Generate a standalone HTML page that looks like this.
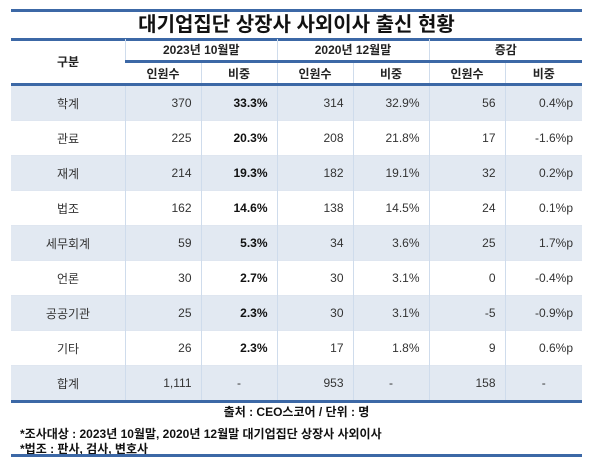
<!DOCTYPE html>
<html><head><meta charset="utf-8"><style>
body{margin:0;width:600px;height:467px;background:#fff;font-family:"Liberation Sans","Noto Sans CJK KR",sans-serif;color:#333;position:relative;overflow:hidden}
.hl{position:absolute;left:11px;width:571px;background:#3c68a6}
.t{position:absolute;left:11px;width:571px;top:12px;height:27px;text-align:center;font-size:20px;font-weight:bold;color:#111;line-height:27px}
table{position:absolute;left:11px;top:39px;width:571px;border-collapse:collapse;font-size:12px}
td{padding:0;border-left:1px solid #cfdcec;border-top:1px solid #dfe6f0}
td:first-child{border-left:none;text-align:center;width:114px}
tr.h td{text-align:center;font-weight:bold;color:#222}
tr.d td{height:34px;text-align:right;padding-right:9px}
tr.d td:first-child{text-align:center;padding-right:0}
tr.s td{background:#e2e9f2}
td.b{font-weight:bold;color:#111}
.src{position:absolute;top:403px;left:11px;width:571px;text-align:center;font-size:12px;font-weight:bold;color:#111}
.n{position:absolute;left:20px;font-size:12px;font-weight:bold;color:#111}
</style></head><body>
<div class="hl" style="top:9px;height:3px"></div>
<div class="t">대기업집단 상장사 사외이사 출신 현황</div>
<div class="hl" style="top:38px;height:3px"></div>
<table>
<tr class="h"><td rowspan="2" style="border-top:none">구분</td><td colspan="2" style="height:21px;border-top:none">2023년 10월말</td><td colspan="2" style="border-top:none">2020년 12월말</td><td colspan="2" style="border-top:none">증감</td></tr>
<tr class="h"><td style="height:20px;border-top:3px solid #3c68a6;width:75px">인원수</td><td style="border-top:3px solid #3c68a6;width:75px">비중</td><td style="border-top:3px solid #3c68a6;width:75px">인원수</td><td style="border-top:3px solid #3c68a6;width:75px">비중</td><td style="border-top:3px solid #3c68a6;width:75px">인원수</td><td style="border-top:3px solid #3c68a6">비중</td></tr>
<tr class="d s"><td style="border-top:3px solid #3c68a6">학계</td><td style="border-top:3px solid #3c68a6">370</td><td class="b" style="border-top:3px solid #3c68a6">33.3%</td><td style="border-top:3px solid #3c68a6">314</td><td style="border-top:3px solid #3c68a6">32.9%</td><td style="border-top:3px solid #3c68a6">56</td><td style="border-top:3px solid #3c68a6">0.4%p</td></tr>
<tr class="d"><td>관료</td><td>225</td><td class="b">20.3%</td><td>208</td><td>21.8%</td><td>17</td><td>-1.6%p</td></tr>
<tr class="d s"><td>재계</td><td>214</td><td class="b">19.3%</td><td>182</td><td>19.1%</td><td>32</td><td>0.2%p</td></tr>
<tr class="d"><td>법조</td><td>162</td><td class="b">14.6%</td><td>138</td><td>14.5%</td><td>24</td><td>0.1%p</td></tr>
<tr class="d s"><td>세무회계</td><td>59</td><td class="b">5.3%</td><td>34</td><td>3.6%</td><td>25</td><td>1.7%p</td></tr>
<tr class="d"><td>언론</td><td>30</td><td class="b">2.7%</td><td>30</td><td>3.1%</td><td>0</td><td>-0.4%p</td></tr>
<tr class="d s"><td>공공기관</td><td>25</td><td class="b">2.3%</td><td>30</td><td>3.1%</td><td>-5</td><td>-0.9%p</td></tr>
<tr class="d"><td>기타</td><td>26</td><td class="b">2.3%</td><td>17</td><td>1.8%</td><td>9</td><td>0.6%p</td></tr>
<tr class="d s"><td>합계</td><td>1,111</td><td style="text-align:center;padding:0">-</td><td>953</td><td style="text-align:center;padding:0">-</td><td>158</td><td style="text-align:center;padding:0">-</td></tr>
</table>
<div class="hl" style="top:400px;height:3px"></div>
<div class="src">출처 : CEO스코어 / 단위 : 명</div>
<div class="n" style="top:425px">*조사대상 : 2023년 10월말, 2020년 12월말 대기업집단 상장사 사외이사</div>
<div class="n" style="top:440px">*법조 : 판사, 검사, 변호사</div>
<div class="hl" style="top:454px;height:3px"></div>
</body></html>
